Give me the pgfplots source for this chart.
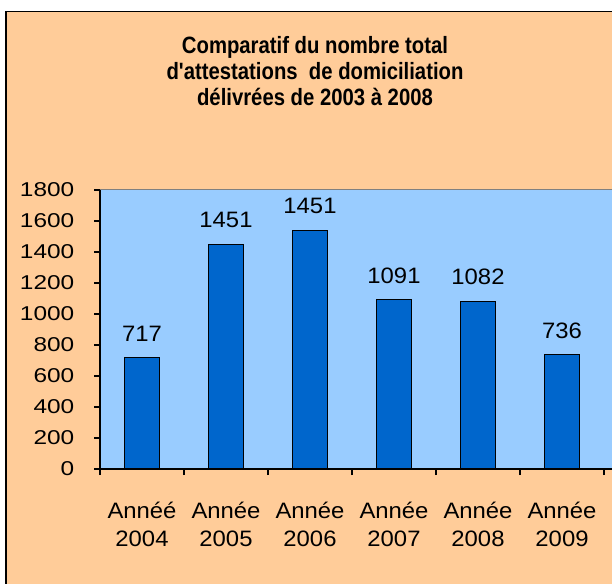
\documentclass[border=0pt]{standalone}
\usepackage{pgfplots}
\pgfplotsset{compat=1.18}
\usepackage{fontspec}
\setmainfont{Liberation Sans}[Ligatures=TeXOff]
\definecolor{peach}{HTML}{FFCC99}
\definecolor{plotbg}{HTML}{99CCFF}
\definecolor{barblue}{HTML}{0066CC}
\begin{document}
\begin{tikzpicture}[x=1pt,y=1pt]
\useasboundingbox (0,0) rectangle (612,583);
\fill[white] (0,0) rectangle (612,583);
\filldraw[fill=peach, draw=black, line width=1.3pt] (6,-20) rectangle (640,571.5);
\node[align=center, inner sep=0pt, anchor=north, xscale=0.86, font=\fontsize{23.6}{26}\selectfont\bfseries] at (315,546.5) {Comparatif du nombre total\\d'attestations\ \ de domiciliation\\délivrées de 2003 à 2008};
\begin{axis}[
  at={(100pt,114pt)}, anchor=south west,
  scale only axis, width=512.4pt, height=279pt,
  xmin=-0.5, xmax=5.6, ymin=0, ymax=1800,
  axis x line*=bottom, axis y line*=left,
  axis line style={black, line width=1.2pt, -},
  axis background/.style={fill=plotbg},
  tick align=outside,
  major tick length=6pt,
  tick style={black, line width=1.2pt},
  ytick={0,200,...,1800},
  yticklabel style={font=\fontsize{20}{24}\selectfont, xscale=1.22, inner sep=0pt, xshift=-16pt},
  /pgf/number format/assume math mode=true,
  /pgf/number format/1000 sep={},
  xtick={-0.5,0.5,...,5.5},
  xticklabel=\empty,
  extra x ticks={0,1,2,3,4,5},
  extra x tick labels={Annéé\\2004,Année\\2005,Année\\2006,Année\\2007,Année\\2008,Année\\2009},
  extra x tick style={major tick length=0pt, xticklabel style={align=center, xscale=1.07, font=\fontsize{22.3}{27.7}\selectfont, inner sep=0pt, anchor=north, yshift=-33pt}},
  after end axis/.code={\draw[gray, line width=1pt] (rel axis cs:0,1) -- (rel axis cs:1,1);},
  clip=false,
]
\addplot[ybar, bar width=35pt, fill=barblue, draw=black, line width=1.1pt,
  nodes near coords, point meta=explicit symbolic,
  every node near coord/.append style={font=\fontsize{22.3}{26}\selectfont, xscale=1.07, inner sep=0pt, anchor=south, yshift=16pt}]
  coordinates {(0,717)[717] (1,1451)[1451] (2,1540)[1451] (3,1091)[1091] (4,1082)[1082] (5,736)[736]};
\end{axis}
\end{tikzpicture}
\end{document}
